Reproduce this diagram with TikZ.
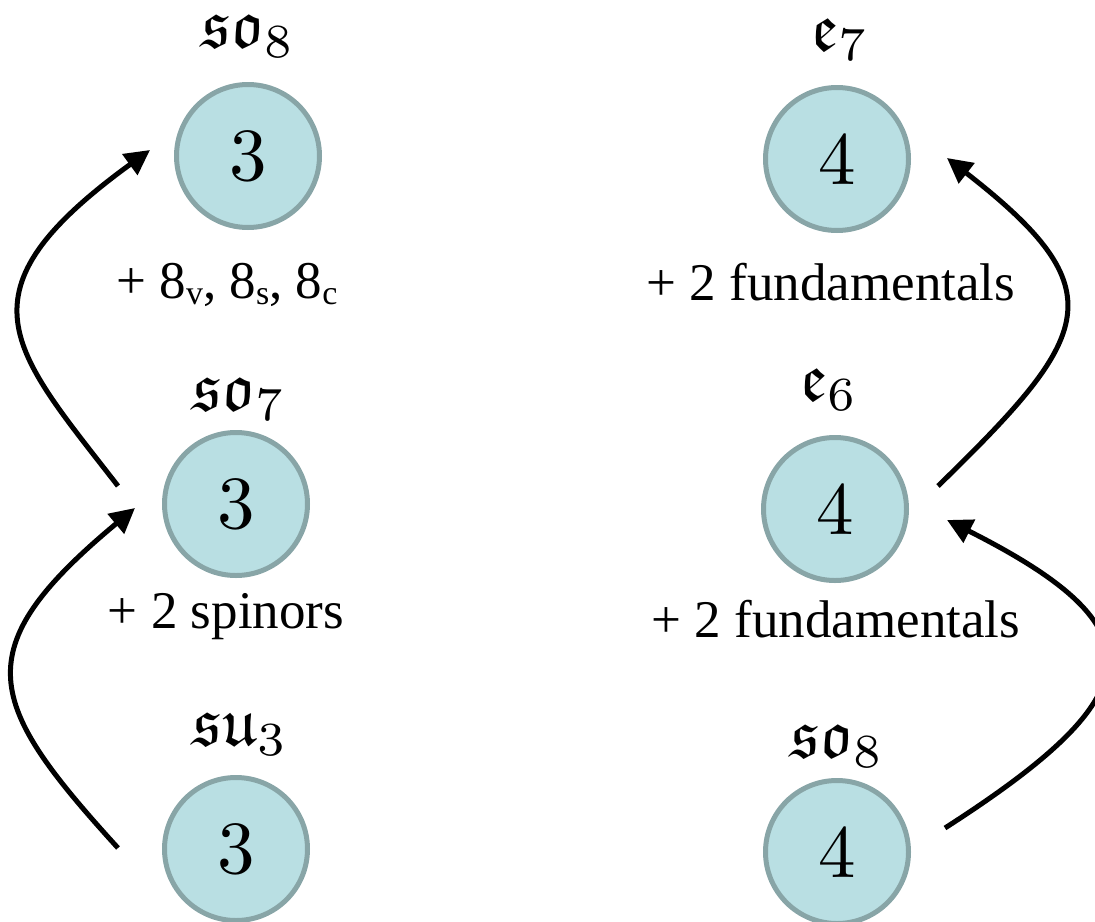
\documentclass[tikz,border=0pt]{standalone}
\usepackage{amssymb}
\usepackage{graphicx}
\usepackage[no-math]{fontspec}
\newfontfamily\tnr{Liberation Serif}
\usetikzlibrary{arrows.meta,calc}
\definecolor{cfill}{HTML}{B9DFE3}
\definecolor{cborder}{HTML}{88A5A7}
\newcommand{\bignum}[1]{\scalebox{7.5}{#1}}
\begin{document}
\begin{tikzpicture}[x=1pt,y=-1pt,
  gnode/.style={circle,draw=cborder,fill=cfill,line width=5pt,minimum size=143pt,inner sep=0pt},
  alg/.style={anchor=base,inner sep=0pt},
  note/.style={anchor=base,inner sep=0pt,font=\tnr\fontsize{53}{53}\selectfont},
  arr/.style={line width=5pt,-{Triangle[length=25pt,width=25pt]}}]
\useasboundingbox (0,0) rectangle (1095,921);
% nodes
\node[gnode] (so8a) at (248,156) {\bignum{3}};
\node[gnode] (so7) at (236,504) {\bignum{3}};
\node[gnode] (su3) at (236,849) {\bignum{3}};
\node[gnode] (e7) at (837,159) {\bignum{4}};
\node[gnode] (e6) at (835,509) {\bignum{4}};
\node[gnode] (so8b) at (837,852) {\bignum{4}};
% algebra labels
\node[alg] (lso8a) at (248,47) {\scalebox{6.8}{$\mathfrak{so}_8$}};
\node[alg] (lso7) at (239,410) {\scalebox{6.8}{$\mathfrak{so}_7$}};
\node[alg] (lsu3) at (240,745) {\scalebox{6.8}{$\mathfrak{su}_3$}};
\node[alg] (le7) at (840,50) {\scalebox{6.8}{$\mathfrak{e}_7$}};
\node[alg] (le6) at (829,400) {\scalebox{6.8}{$\mathfrak{e}_6$}};
\node[alg] (lso8b) at (837,757) {\scalebox{6.8}{$\mathfrak{so}_8$}};
% matter labels
\node[note] (m1) at (227,298) {+ 8\raisebox{-0.12em}{\fontsize{34}{34}\selectfont v}, 8\raisebox{-0.12em}{\fontsize{34}{34}\selectfont s}, 8\raisebox{-0.12em}{\fontsize{34}{34}\selectfont c}};
\node[note] (m2) at (226,628) {+ 2 spinors};
\node[note] (m3) at (831,300) {+ 2 fundamentals};
\node[note] (m4) at (836,637) {+ 2 fundamentals};
% arrow end points
\coordinate (a1s) at ($(su3)+(-118,-1)$);
\coordinate (a1e) at ($(so7)+(-101,4)$);
\coordinate (a2s) at ($(so7)+(-118,-18)$);
\coordinate (a2e) at ($(so8a)+(-98,-6)$);
\coordinate (a3s) at ($(e6)+(103,-23)$);
\coordinate (a3e) at ($(e7)+(110,-1)$);
\coordinate (a4s) at ($(so8b)+(108,-24)$);
\coordinate (a4e) at ($(e6)+(112,11)$);
% arrows
\draw[arr] (a1s) .. controls (-14,703) and (-36,650) .. (a1e);
\draw[arr] (a2s) .. controls (11,348) and (-47,293) .. (a2e);
\draw[arr] (a3s) .. controls (1093,335) and (1118,291) .. (a3e);
\draw[arr] (a4s) .. controls (1152,695) and (1163,629) .. (a4e);
\end{tikzpicture}
\end{document}
